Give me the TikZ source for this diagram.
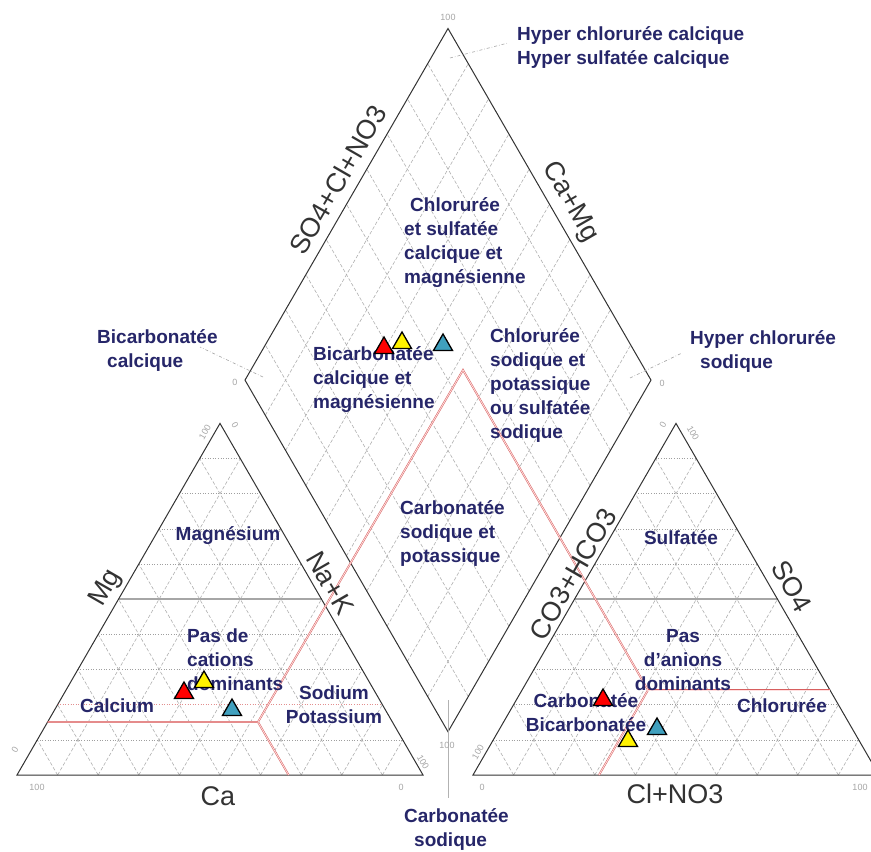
\documentclass[tikz,border=0pt]{standalone}
\usepackage{fontspec}
\setmainfont{Liberation Sans}
\usetikzlibrary{calc,shapes.geometric}
\definecolor{zonecol}{RGB}{38,38,105}
\definecolor{tealpt}{RGB}{64,160,190}
\definecolor{redln}{RGB}{215,95,95}

\begin{document}
\begin{tikzpicture}[x=1pt,y=-1pt,
  edge/.style={draw=black!80, line width=1pt},
  gridh/.style={draw=gray!75, line width=0.6pt, dotted},
  grids/.style={draw=gray!65, line width=0.55pt, dash pattern=on 3.5pt off 2pt},
  half/.style={draw=gray!70, line width=1.6pt},
  limit/.style={draw=redln, line width=0.5pt, double=red!12, double distance=0.8pt},
  leader/.style={draw=gray!70, line width=0.6pt, dash dot},
  zone/.style={text=zonecol, font=\fontsize{19}{24}\selectfont\bfseries, inner sep=0pt},
  axis/.style={text=black!80, font=\fontsize{27}{30}\selectfont, inner sep=0pt},
  tick/.style={text=gray!70, font=\fontsize{9}{10}\selectfont, inner sep=0pt},
  sample/.style={regular polygon, regular polygon sides=3, draw=black, line width=1.3pt, minimum size=22pt, inner sep=0pt}]

  \fill[white] (0,0) rectangle (871,852);
  \useasboundingbox (0,0) rectangle (871,852);

  % corners of the two triangles and the diamond
  \coordinate (A1) at (17,775);   \coordinate (B1) at (423,775);  \coordinate (C1) at (220,423.4);
  \coordinate (A2) at (473,775);  \coordinate (B2) at (879,775);  \coordinate (C2) at (676,423.4);
  \coordinate (D) at (448,731.7); \coordinate (L) at (245,380.1);
  \coordinate (T) at (448,28.5);  \coordinate (R) at (651,380.1);

  % triangle grids
  \foreach \a/\b/\c in {A1/B1/C1, A2/B2/C2} {
    \foreach \i in {1,...,9} {
      \draw[gridh] ($(\a)!\i/10!(\c)$) -- ($(\b)!\i/10!(\c)$);
      \draw[grids] ($(\a)!\i/10!(\b)$) -- ($(\c)!\i/10!(\b)$);
      \draw[grids] ($(\b)!\i/10!(\a)$) -- ($(\c)!\i/10!(\a)$);
    }
    \draw[half] ($(\a)!0.5!(\c)$) -- ($(\b)!0.5!(\c)$);
    \draw[edge] (\a) -- (\b) -- (\c) -- cycle;
  }
  \draw[gridh, draw=redln!70] ($(A1)!0.2!(C1)$) -- ($(B1)!0.2!(C1)$);

  % diamond grid
  \foreach \i in {1,...,9} {
    \draw[grids] ($(D)!\i/10!(R)$) -- ($(L)!\i/10!(T)$);
    \draw[grids] ($(D)!\i/10!(L)$) -- ($(R)!\i/10!(T)$);
  }
  \draw[edge] (D) -- (L) -- (T) -- (R) -- cycle;

  % classification limits
  \coordinate (Pc) at (258,722);
  \coordinate (Rd) at (463,370);
  \coordinate (Qa) at (648,690);
  \draw[limit] (47.6,722) -- (Pc) -- (288.6,775);
  \draw[limit] (Pc) -- (Rd) -- (Qa) -- (599,775);
  \draw[limit] (Qa) -- (830,690);

  % leaders
  \coordinate (l1a) at (450,58);  \coordinate (l1b) at (508,43);
  \coordinate (l2a) at (263,377); \coordinate (l2b) at (200,347);
  \coordinate (l3a) at (630,378); \coordinate (l3b) at (682,353);
  \coordinate (l4a) at (448,700); \coordinate (l4b) at (448,798);
  \draw[leader] (l1a) -- (l1b);
  \draw[leader] (l2a) -- (l2b);
  \draw[leader] (l3a) -- (l3b);
  \draw[draw=gray!60, line width=0.6pt] (l4a) -- (l4b);

  % tick values
  \node[tick] (t1) at (448,17) {100};
  \node[tick] (t2) at (235,382) {0};
  \node[tick] (t3) at (662,383) {0};
  \node[tick] (t4) at (447,745) {100};
  \node[tick, rotate=60] (t5) at (205,432) {100};
  \node[tick, rotate=-60] (t6) at (235,425) {0};
  \node[tick, rotate=60] (t7) at (15,750) {0};
  \node[tick] (t8) at (37,787) {100};
  \node[tick] (t9) at (401,787) {0};
  \node[tick, rotate=-60] (t10) at (423,762) {100};
  \node[tick, rotate=60] (t11) at (663,425) {0};
  \node[tick, rotate=-60] (t12) at (693,433) {100};
  \node[tick, rotate=60] (t13) at (478,752) {100};
  \node[tick] (t14) at (482,787) {0};
  \node[tick] (t15) at (860,787) {100};

  % axis names
  \node[axis, rotate=60] (so4cl) at (338,180) {SO4+Cl+NO3};
  \node[axis, rotate=-60] (camg) at (570,202) {Ca+Mg};
  \node[axis, rotate=60] (mg) at (106,588) {Mg};
  \node[axis, rotate=-60] (nak) at (330,583) {Na+K};
  \node[axis] (ca) at (218,796) {Ca};
  \node[axis, rotate=60] (co3) at (573,574) {CO3+HCO3};
  \node[axis, rotate=-60] (so4) at (792,586) {SO4};
  \node[axis] (clno3) at (675,794) {Cl+NO3};

  % facies
  \node[zone, anchor=west, align=left] (hcc) at (517,48) {Hyper chlorurée calcique\\Hyper sulfatée calcique};
  \node[zone, anchor=west, align=left] (bcc) at (97,350) {Bicarbonatée\\\hspace*{10pt}calcique};
  \node[zone, anchor=west, align=left] (hcs) at (690,351) {Hyper chlorurée\\\hspace*{10pt}sodique};
  \node[zone, anchor=west, align=left] (csc) at (404,243) {\hspace*{6pt}Chlorurée\\et sulfatée\\calcique et\\magnésienne};
  \node[zone, anchor=west, align=left] (bcm) at (313,380) {Bicarbonatée\\calcique et\\magnésienne};
  \node[zone, anchor=west, align=left] (csp) at (490,385) {Chlorurée\\sodique et\\potassique\\ou sulfatée\\sodique};
  \node[zone, anchor=west, align=left] (cspk) at (400,533) {Carbonatée\\sodique et\\potassique};
  \node[zone] (mgz) at (228,536) {Magnésium};
  \node[zone, anchor=west, align=left] (pcd) at (187,660) {Pas de\\cations\\dominants};
  \node[zone] (caz) at (117,706) {Calcium};
  \node[zone, align=center] (nakz) at (334,705) {Sodium\\Potassium};
  \node[zone] (sulf) at (681,538) {Sulfatée};
  \node[zone, align=center] (pad) at (683,660) {Pas\\d'anions\\dominants};
  \node[zone, align=center] (carb) at (586,713) {Carbonatée\\Bicarbonatée};
  \node[zone] (chl) at (782,706) {Chlorurée};
  \node[zone, anchor=west, align=left] (cs) at (404,829) {Carbonatée\\\hspace*{10pt}sodique};

  % samples
  \node[sample, fill=red] (s1) at (184,693) {};
  \node[sample, fill=yellow] (s2) at (204,682) {};
  \node[sample, fill=tealpt] (s3) at (232,710) {};
  \node[sample, fill=red] (s4) at (384,348) {};
  \node[sample, fill=yellow] (s5) at (402,343) {};
  \node[sample, fill=tealpt] (s6) at (443,345) {};
  \node[sample, fill=red] (s7) at (603,700) {};
  \node[sample, fill=yellow] (s8) at (628,741) {};
  \node[sample, fill=tealpt] (s9) at (657,729) {};
\end{tikzpicture}
\end{document}
